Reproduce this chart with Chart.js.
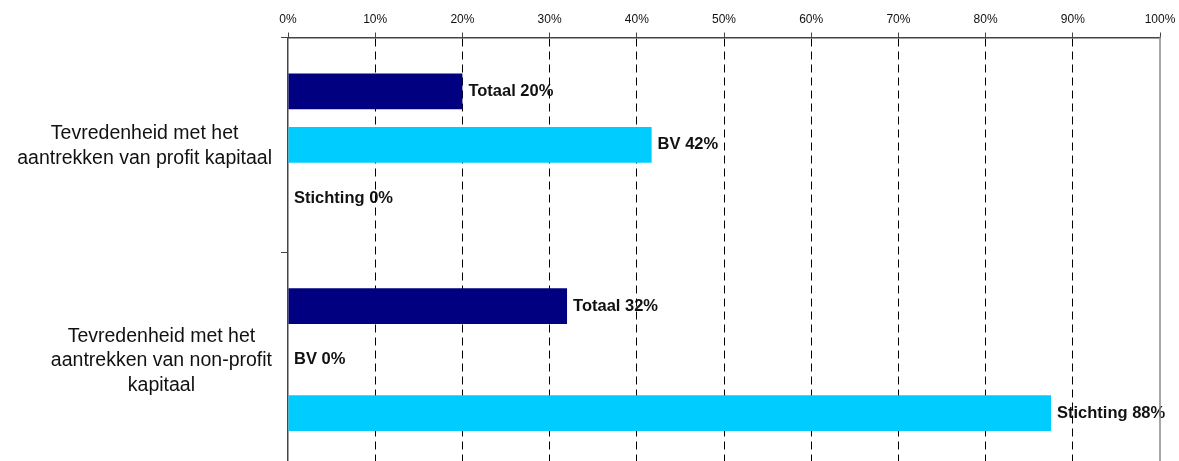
<!DOCTYPE html>
<html>
<head>
<meta charset="utf-8">
<script src="https://cdn.jsdelivr.net/npm/chart.js@4/dist/chart.umd.min.js"></script>
<style>
  html, body { margin: 0; padding: 0; background: #fff; overflow: hidden; }
  #wrap { width: 1179px; height: 467px; }
</style>
</head>
<body>
<div id="wrap"><canvas id="chart" width="1179" height="467"></canvas></div>
<script>
// ============ data ============
const CATEGORIES = [
  ["Tevredenheid met het", "aantrekken van profit kapitaal"],
  ["Tevredenheid met het", "aantrekken van non-profit", "kapitaal"]
];
const SERIES = ["Totaal", "BV", "Stichting"];
const TOTAAL = [20, 32];
const BV = [41.7, 0];
const STICHTING = [0, 87.5];
const TICKS = [0, 10, 20, 30, 40, 50, 60, 70, 80, 90, 100];

const COLORS = ["#000080", "#00CCFF", "#00CCFF"];
const FONT = "'Liberation Sans', Arial, sans-serif";

// labels for bars, drawn before the grid so dashed lines run over them
const barLabels = {
  id: "barLabels",
  beforeDraw(chart) {
    const ctx = chart.ctx;
    ctx.save();
    ctx.font = "bold 16.5px " + FONT;
    ctx.fillStyle = "#111";
    ctx.textBaseline = "middle";
    ctx.textAlign = "left";
    chart.data.datasets.forEach((ds, d) => {
      const meta = chart.getDatasetMeta(d);
      meta.data.forEach((bar, i) => {
        const v = ds.data[i];
        ctx.fillText(SERIES[d] + " " + Math.round(v) + "%", bar.x + 6, bar.y);
      });
    });
    ctx.restore();
  },
  afterDraw(chart) {
    const ctx = chart.ctx;
    const x = chart.scales.x;
    const y = chart.scales.y;
    const area = chart.chartArea;
    ctx.save();
    // solid right border at 100%
    ctx.strokeStyle = "#8a8a8a";
    ctx.lineWidth = 1.5;
    ctx.beginPath();
    ctx.moveTo(x.getPixelForValue(100), area.top - 1);
    ctx.lineTo(x.getPixelForValue(100), area.bottom);
    ctx.stroke();
    // category labels: block right aligned, lines centred in block
    ctx.font = "19.5px " + FONT;
    ctx.fillStyle = "#111";
    ctx.textBaseline = "middle";
    ctx.textAlign = "center";
    const lh = 24.5;
    CATEGORIES.forEach((lines, i) => {
      const w = Math.max(...lines.map(l => ctx.measureText(l).width));
      const cx = area.left - 16 - w / 2;
      const cy = y.getPixelForValue(i) + 1;
      lines.forEach((l, j) => {
        ctx.fillText(l, cx, cy + (j - (lines.length - 1) / 2) * lh);
      });
    });
    ctx.restore();
  }
};

new Chart(document.getElementById("chart"), {
  type: "bar",
  data: {
    labels: CATEGORIES,
    datasets: SERIES.map((name, d) => ({
      label: name,
      data: [TOTAAL, BV, STICHTING][d],
      backgroundColor: COLORS[d],
      borderWidth: 0,
      categoryPercentage: 0.748,
      barPercentage: 0.667
    }))
  },
  options: {
    indexAxis: "y",
    responsive: false,
    animation: false,
    layout: { padding: { left: 0, right: 19, top: 0, bottom: 0 } },
    plugins: { legend: { display: false }, tooltip: { enabled: false } },
    scales: {
      x: {
        type: "linear",
        position: "top",
        min: 0,
        max: 100,
        afterBuildTicks: s => { s.ticks = TICKS.map(v => ({ value: v })); },
        afterFit: s => { s.height = 37.5; s.paddingLeft = 0; s.paddingRight = 0; },
        ticks: {
          callback: v => v + "%",
          font: { family: FONT, size: 12 },
          color: "#111",
          padding: 6,
          maxRotation: 0
        },
        grid: {
          color: c => (c.tick && (c.tick.value === 100 || c.tick.value === 0)) ? "rgba(0,0,0,0)" : "#000",
          lineWidth: 1,
          drawTicks: true,
          tickLength: 5,
          tickColor: "#444",
          tickBorderDash: []
        },
        border: { display: true, color: "#444", width: 1.5, dash: [8, 5] }
      },
      y: {
        type: "category",
        position: "left",
        afterFit: s => { s.width = 288; },
        ticks: { display: false },
        grid: {
          drawOnChartArea: false,
          drawTicks: true,
          tickLength: 7,
          tickColor: "#444",
          offset: true
        },
        border: { display: true, color: "#444", width: 1.5 }
      }
    }
  },
  plugins: [barLabels]
});
</script>
</body>
</html>
